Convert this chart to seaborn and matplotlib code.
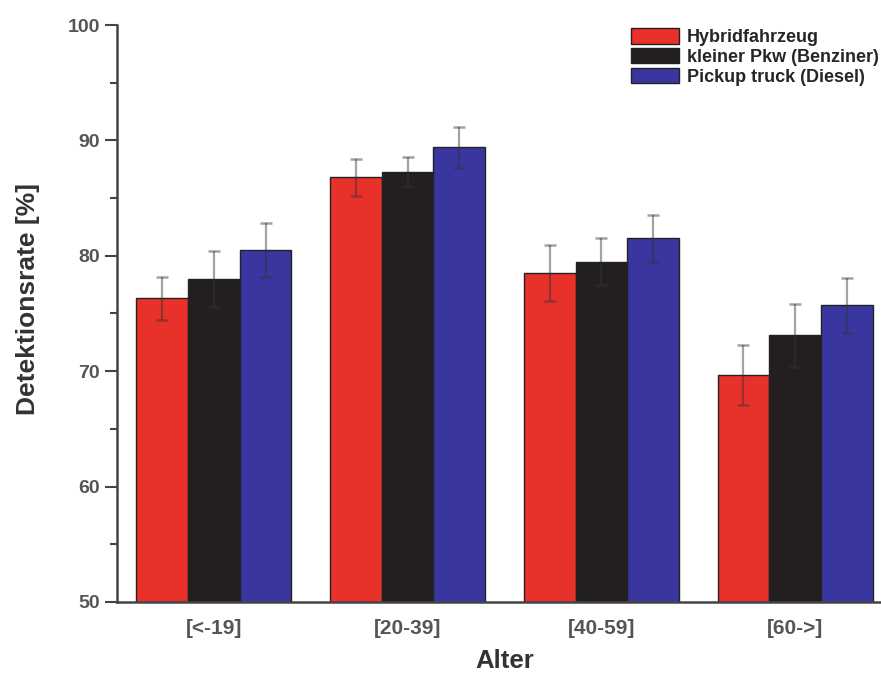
import matplotlib
matplotlib.use("Agg")
import matplotlib.pyplot as plt
import pandas as pd
import seaborn as sns
from matplotlib.ticker import MultipleLocator

# Data
age_groups = ["[<-19]", "[20-39]", "[40-59]", "[60->]"]
vehicles = ["Hybridfahrzeug", "kleiner Pkw (Benziner)", "Pickup truck (Diesel)"]
hybrid = [76.3, 86.8, 78.5, 69.7]
pkw = [78.0, 87.3, 79.5, 73.1]
pickup = [80.5, 89.4, 81.5, 75.7]
hybrid_err = [1.9, 1.6, 2.4, 2.6]
pkw_err = [2.4, 1.3, 2.0, 2.7]
pickup_err = [2.3, 1.8, 2.0, 2.4]

colors = ["#E8312A", "#231F20", "#3A36A0"]

df = pd.DataFrame({
    "Alter": age_groups * 3,
    "Fahrzeug": [v for v in vehicles for _ in age_groups],
    "Rate": hybrid + pkw + pickup,
})
errors = [hybrid_err, pkw_err, pickup_err]

sns.set_style("ticks")
plt.rcParams["font.family"] = ["Liberation Sans", "DejaVu Sans"]

fig = plt.figure(figsize=(8.81, 6.75), dpi=100)
ax = fig.add_axes([117 / 881, 1 - 602 / 675, (892 - 117) / 881, (602 - 25) / 675])

sns.barplot(data=df, x="Alter", y="Rate", hue="Fahrzeug", hue_order=vehicles,
            palette=colors, errorbar=None, width=0.8, edgecolor="#222222",
            linewidth=1.0, saturation=1, ax=ax)

# Error bars at the bar centres
for container, err in zip(ax.containers, errors):
    xs = [p.get_x() + p.get_width() / 2 for p in container.patches]
    ys = [p.get_height() for p in container.patches]
    ax.errorbar(xs, ys, yerr=err, fmt="none", ecolor="#333333", alpha=0.45,
                elinewidth=1.6, capsize=4.5, capthick=1.8, zorder=3)

ax.set_ylim(50, 100)
ax.set_xlim(-0.5, 3.5)
ax.yaxis.set_major_locator(MultipleLocator(10))
ax.yaxis.set_minor_locator(MultipleLocator(5))
ax.tick_params(axis="y", which="major", length=8.5, width=1.5, color="#444444",
               labelsize=14, labelcolor="#555555", pad=4)
ax.tick_params(axis="y", which="minor", length=5, width=1.5, color="#444444")
ax.tick_params(axis="x", length=0, labelsize=15, labelcolor="#555555", pad=12)
for lbl in ax.get_yticklabels() + ax.get_xticklabels():
    lbl.set_fontweight("bold")

sns.despine(ax=ax, top=True, right=True)
for side in ["left", "bottom"]:
    ax.spines[side].set_linewidth(1.8)
    ax.spines[side].set_color("#444444")

ax.set_ylabel("Detektionsrate [%]", fontsize=19, fontweight="bold", color="#333333")
ax.yaxis.set_label_coords(-0.099, 0.525)
ax.set_xlabel("Alter", fontsize=18.5, fontweight="bold", color="#333333")
ax.xaxis.set_label_coords(0.5, -0.082)

ax.legend(loc="upper left", bbox_to_anchor=(631 / 881, 1 - 28 / 675),
          bbox_transform=fig.transFigure, frameon=False, title=None,
          prop={"weight": "bold", "size": 13}, handlelength=2.65,
          handleheight=0.95, labelspacing=0.1, handletextpad=0.45,
          borderaxespad=0, borderpad=0)

fig.savefig("out.png", dpi=100)
